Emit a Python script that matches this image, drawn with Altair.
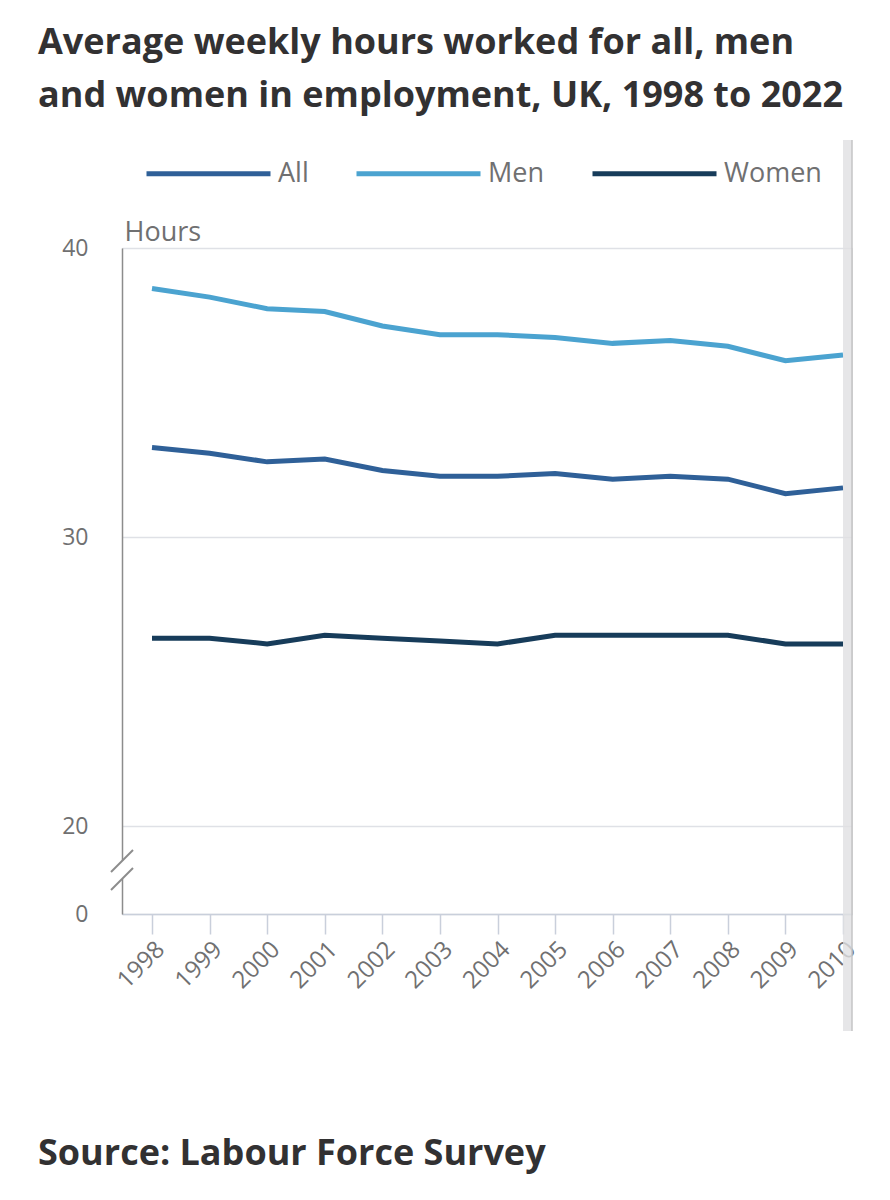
import altair as alt
import pandas as pd

years = list(range(1998, 2011))
all_hours = [33.1, 32.9, 32.6, 32.7, 32.3, 32.1, 32.1, 32.2, 32.0, 32.1, 32.0, 31.5, 31.7]
men_hours = [38.6, 38.3, 37.9, 37.8, 37.3, 37.0, 37.0, 36.9, 36.7, 36.8, 36.6, 36.1, 36.3]
women_hours = [26.5, 26.5, 26.3, 26.6, 26.5, 26.4, 26.3, 26.6, 26.6, 26.6, 26.6, 26.3, 26.3]
series = ["All", "Men", "Women"]
colors = ["#2f6098", "#4ba3d0", "#173c5a"]
y_ticks = [0, 20, 30, 40]

title_lines = ["Average weekly hours worked for all, men",
               "and women in employment, UK, 1998 to 2022"]
source_text = "Source: Labour Force Survey"

rows = []
for name, vals in zip(series, [all_hours, men_hours, women_hours]):
    for yr, v in zip(years, vals):
        rows.append({"year": yr, "hours": v, "group": name})
df = pd.DataFrame(rows)

FONT = "Open Sans"
GREY = "#707071"
W, H = 730, 666

x_enc = alt.X("year:Q",
              scale=alt.Scale(domain=[1997.479, 2010.156], nice=False, zero=False),
              axis=alt.Axis(values=years, format="d", title=None, grid=False,
                            labelAngle=315, labelFontSize=24, labelColor=GREY,
                            labelFont=FONT, labelPadding=3, tickSize=20,
                            tickColor="#c9cfdb", tickWidth=1.5,
                            domainColor="#c9cfdb", domainWidth=1.5,
                            labelOverlap=False))
y_enc = alt.Y("hours:Q",
              scale=alt.Scale(domain=[0, 20, 40], range=[H, H - 88, 0]),
              axis=alt.Axis(values=y_ticks, title="Hours", titleAngle=0,
                            titleX=2, titleY=-8, titleAlign="left",
                            titleBaseline="alphabetic", titleFontSize=27,
                            titleFontWeight="normal", titleColor=GREY,
                            titleFont=FONT, labelFontSize=23, labelColor=GREY,
                            labelFont=FONT, tickSize=0, ticks=False,
                            labelPadding=34, domainColor="#8c8c8c",
                            domainWidth=1.5, gridColor="#dfe1e6",
                            gridWidth=1.5))

lines = alt.Chart(df).mark_line(strokeWidth=5, clip=True).encode(
    x=x_enc,
    y=y_enc,
    color=alt.Color("group:N",
                    scale=alt.Scale(domain=series, range=colors),
                    legend=alt.Legend(orient="none", direction="horizontal",
                                      legendX=22, legendY=-139, title=None,
                                      symbolType="stroke", symbolSize=15376,
                                      symbolStrokeWidth=5, labelFontSize=27,
                                      labelColor=GREY, labelFont=FONT,
                                      labelOffset=5, columnPadding=37)),
)

one = pd.DataFrame({"k": [0]})

# axis break marks
gap = alt.Chart(one).mark_rect(color="white").encode(
    x=alt.value(-4), x2=alt.value(4), y=alt.value(613), y2=alt.value(631))
slash1 = alt.Chart(one).mark_rule(color="#8c8c8c", strokeWidth=2).encode(
    x=alt.value(-11), x2=alt.value(11), y=alt.value(624), y2=alt.value(602))
slash2 = alt.Chart(one).mark_rule(color="#8c8c8c", strokeWidth=2).encode(
    x=alt.value(-11), x2=alt.value(11), y=alt.value(642), y2=alt.value(620))

# scroll bar overlay at right
bar = alt.Chart(one).mark_rect(color="#e0e0e2", opacity=0.8).encode(
    x=alt.value(721), x2=alt.value(730), y=alt.value(-108), y2=alt.value(783))
bar_edge = alt.Chart(one).mark_rule(color="#c4c4c6", strokeWidth=1.5).encode(
    x=alt.value(730), y=alt.value(-108), y2=alt.value(783))

title = alt.Chart(one).mark_text(align="left", baseline="alphabetic",
                                 font=FONT, fontSize=36, fontWeight="bold",
                                 color="#323132", lineHeight=53).encode(
    x=alt.value(-84), y=alt.value(-194), text=alt.value(title_lines))
source = alt.Chart(one).mark_text(align="left", baseline="alphabetic",
                                  font=FONT, fontSize=36, fontWeight="bold",
                                  color="#323132").encode(
    x=alt.value(-84), y=alt.value(917), text=alt.value(source_text))

chart = alt.layer(lines, gap, slash1, slash2, bar, bar_edge, title, source).properties(
    width=W, height=H,
    autosize=alt.AutoSizeParams(type="none"),
    padding={"left": 114, "top": 240, "right": 30, "bottom": 278},
).configure_view(stroke=None).configure(background="white")

chart.save("out.html", embed_options={"renderer": "svg", "actions": False})
